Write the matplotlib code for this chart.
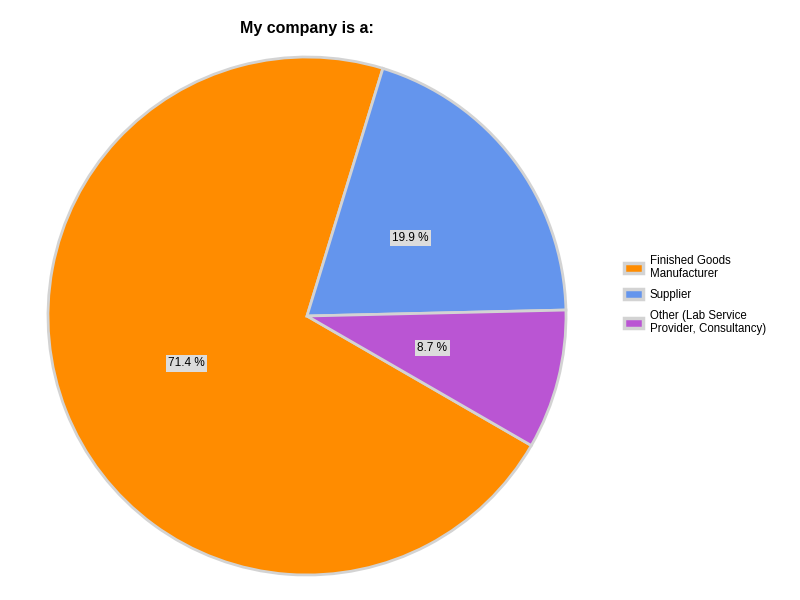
import matplotlib.pyplot as plt
from matplotlib.patches import Patch

plt.rcParams['font.family'] = ['Liberation Sans', 'DejaVu Sans']

labels = ['Finished Goods\nManufacturer', 'Supplier', 'Other (Lab Service\nProvider, Consultancy)']
shares = [71.4, 19.9, 8.7]
colors = ['#FF8C00', '#6495ED', '#BA55D3']

fig = plt.figure(figsize=(8, 6), dpi=100)
# pie centre ~ (307, 316) px, radius ~ 259 px
ax = fig.add_axes([(307 - 259) / 800, (600 - 316 - 259) / 600, 518 / 800, 518 / 600])

wedges, texts, autotexts = ax.pie(
    shares, colors=colors, startangle=-30, counterclock=False,
    autopct='%.1f %%', pctdistance=0.5,
    wedgeprops=dict(edgecolor='#d3d3d3', linewidth=2, clip_on=False),
    textprops=dict(fontsize=8.5, color='black'))
for t in autotexts:
    t.set_bbox(dict(facecolor='#dcdcdc', edgecolor='none', pad=1.5))
ax.set_xlim(-1.0, 1.0)
ax.set_ylim(-1.0, 1.0)
ax.set_aspect('equal')
ax.axis('off')

fig.text(307 / 800, 1 - 28 / 600, 'My company is a:', ha='center', va='center',
         fontsize=11.5, fontweight='bold')

handles = [Patch(facecolor=c, edgecolor='#d3d3d3', linewidth=2.5) for c in colors]
fig.legend(handles, labels, loc='center left', bbox_to_anchor=(614 / 800, 1 - 295 / 600),
           frameon=False, fontsize=8.3, handlelength=1.6, handleheight=0.9,
           handletextpad=0.6, labelspacing=0.75)

fig.savefig('out.png', dpi=100)
